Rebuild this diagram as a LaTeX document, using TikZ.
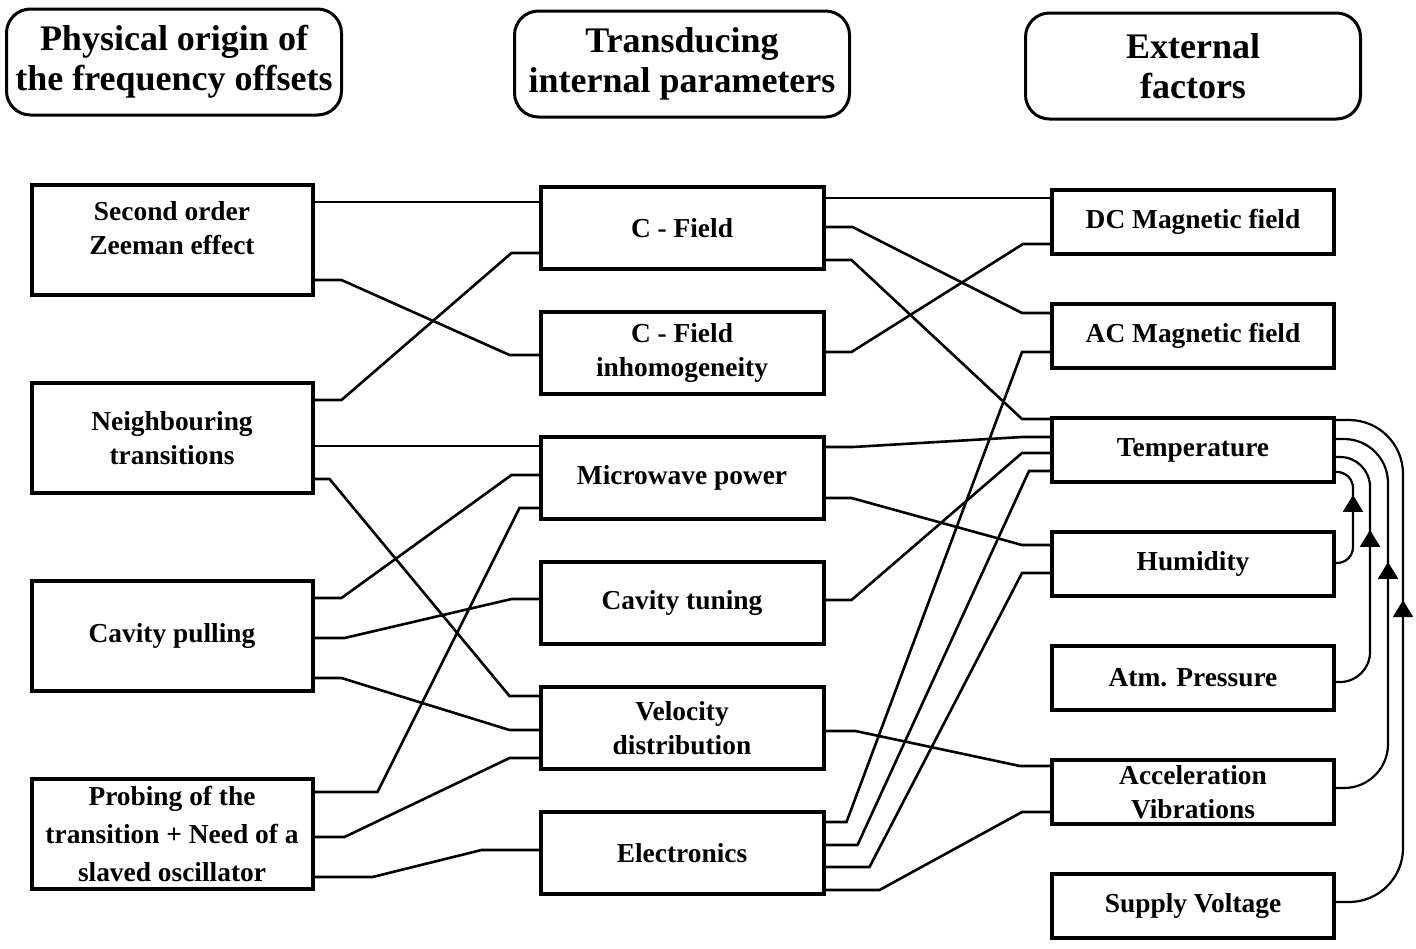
\documentclass[tikz,border=0pt]{standalone}
\usepackage{fontspec}
\setmainfont{Liberation Serif}
\usetikzlibrary{positioning, calc, arrows.meta, decorations.markings}

\begin{document}
\begin{tikzpicture}[
            x = 0.5pt, y = 0.5pt, % one unit = one pixel of the drawing
            font = \bfseries\fontsize{13.7}{17}\selectfont,
            every node/.style = {align = center},
            line cap = round,
            % wire with a short flat stub at each end
            link/.style 2 args = {to path = {-- ++(#1,0) -- ($(\tikztotarget)+(-#2,0)$) -- (\tikztotarget)}},
            % arrow head sitting on a feedback loop, measured from its end
            fbtip/.style = {postaction = {decorate}, decoration = {markings,
                mark = at position -#1 with {\arrow{Triangle[length=8.5pt, width=10pt]}}}}
        ]
        \tikzstyle{header}=[
            draw = black,
            line width = 1.5pt,
            rounded corners = 12pt,
            minimum width = 167.5pt,
            minimum height = 53pt,
            font = \bfseries\fontsize{18}{20}\selectfont
        ]
        \tikzstyle{cause}=[draw = black, line width = 2pt, minimum width = 140.5pt, minimum height = 55pt]
        \tikzstyle{param}=[draw = black, line width = 2pt, minimum width = 141.5pt, minimum height = 41pt]
        \tikzstyle{factor}=[draw = black, line width = 2pt, inner ysep = 1pt, minimum width = 141pt, minimum height = 32pt]
        \tikzstyle{wire}=[line width = 1.3pt]
        \tikzstyle{feedback}=[line width = 1.1pt]

        \useasboundingbox (0,0) rectangle (1416,-948);

        % column headings
        \node[header] (H1) at (174,-62) {Physical origin of\\the frequency offsets};
        \node[header] (H2) at (682,-64) {Transducing\\internal parameters};
        \node[header] (H3) at (1193,-66) {External\\factors};

        % physical origins
        \node[cause, text depth=12pt] (L1) at (172,-240) {Second order\\Zeeman effect};
        \node[cause] (L2)[below=42pt of L1] {Neighbouring\\transitions};
        \node[cause] (L3)[below=42pt of L2] {Cavity pulling};
        \node[cause, font=\bfseries\fontsize{13.7}{19}\selectfont] (L4)[below=42pt of L3]
            {Probing of the\\transition + Need of a\\slaved oscillator};

        % internal parameters
        \node[param] (M1) at (682,-228) {C - Field};
        \node[param] (M2)[below=19.5pt of M1] {C - Field\\inhomogeneity};
        \node[param] (M3)[below=19.5pt of M2] {Microwave power};
        \node[param] (M4)[below=19.5pt of M3] {Cavity tuning};
        \node[param] (M5)[below=19.5pt of M4] {Velocity\\distribution};
        \node[param] (M6)[below=19.5pt of M5] {Electronics};

        % external factors
        \node[factor] (R1) at (1193,-222) {DC Magnetic field};
        \node[factor] (R2)[below=23pt of R1] {AC Magnetic field};
        \node[factor] (R3)[below=23pt of R2] {Temperature};
        \node[factor] (R4)[below=23pt of R3] {Humidity};
        \node[factor] (R5)[below=23pt of R4] {Atm. Pressure};
        \node[factor] (R6)[below=23pt of R5] {Acceleration\\Vibrations};
        \node[factor] (R7)[below=23pt of R6] {Supply Voltage};

        % origins -> parameters
        \draw[wire] (L1.east |- 0,-202) -- (M1.west |- 0,-202);
        \draw[wire] (L1.east |- 0,-280) to[link={27}{29}] (M2.west |- 0,-355);
        \draw[wire] (L2.east |- 0,-400) to[link={27}{27}] (M1.west |- 0,-253);
        \draw[wire] (L2.east |- 0,-446) -- (M3.west |- 0,-446);
        \draw[wire] (L2.east |- 0,-479) to[link={15}{29}] (M5.west |- 0,-696);
        \draw[wire] (L3.east |- 0,-598) to[link={27}{27}] (M3.west |- 0,-475);
        \draw[wire] (L3.east |- 0,-638) to[link={30}{27}] (M4.west |- 0,-599);
        \draw[wire] (L3.east |- 0,-678) to[link={27}{29}] (M5.west |- 0,-730);
        \draw[wire] (L4.east |- 0,-792) to[link={63}{19}] (M3.west |- 0,-508);
        \draw[wire] (L4.east |- 0,-837) to[link={30}{29}] (M5.west |- 0,-758);
        \draw[wire] (L4.east |- 0,-877) to[link={58}{57}] (M6.west |- 0,-850);

        % parameters -> external factors
        \draw[wire] (M1.east |- 0,-198) -- (R1.west |- 0,-198);
        \draw[wire] (M1.east |- 0,-227) to[link={27}{28}] (R2.west |- 0,-313);
        \draw[wire] (M1.east |- 0,-260) to[link={26}{28}] (R3.west |- 0,-419);
        \draw[wire] (M2.east |- 0,-352) to[link={26}{27}] (R1.west |- 0,-244);
        \draw[wire] (M3.east |- 0,-447) to[link={27}{28}] (R3.west |- 0,-437);
        \draw[wire] (M3.east |- 0,-498) to[link={26}{28}] (R4.west |- 0,-545);
        \draw[wire] (M4.east |- 0,-600) to[link={26}{28}] (R3.west |- 0,-453);
        \draw[wire] (M5.east |- 0,-731) to[link={30}{30}] (R6.west |- 0,-766);
        \draw[wire] (M6.east |- 0,-822) to[link={21}{28}] (R2.west |- 0,-352);
        \draw[wire] (M6.east |- 0,-845) to[link={32}{21}] (R3.west |- 0,-471);
        \draw[wire] (M6.east |- 0,-867) to[link={44}{28}] (R4.west |- 0,-573);
        \draw[wire] (M6.east |- 0,-890) to[link={54}{28}] (R6.west |- 0,-812);

        % feedback into temperature
        \draw[feedback, rounded corners=8pt, fbtip=16.5pt]
            (R4.east |- 0,-563) -| ++(17,91) -- (R3.east |- 0,-472);
        \draw[feedback, rounded corners=15pt, fbtip=47pt]
            (R5.east |- 0,-682) -| ++(34,225) -- (R3.east |- 0,-457);
        \draw[feedback, rounded corners=22pt, fbtip=78pt]
            (R6.east |- 0,-788) -| ++(52,349) -- (R3.east |- 0,-439);
        \draw[feedback, rounded corners=27pt, fbtip=112pt]
            (R7.east |- 0,-902) -| ++(67,482) -- (R3.east |- 0,-420);
    \end{tikzpicture}
\end{document}
